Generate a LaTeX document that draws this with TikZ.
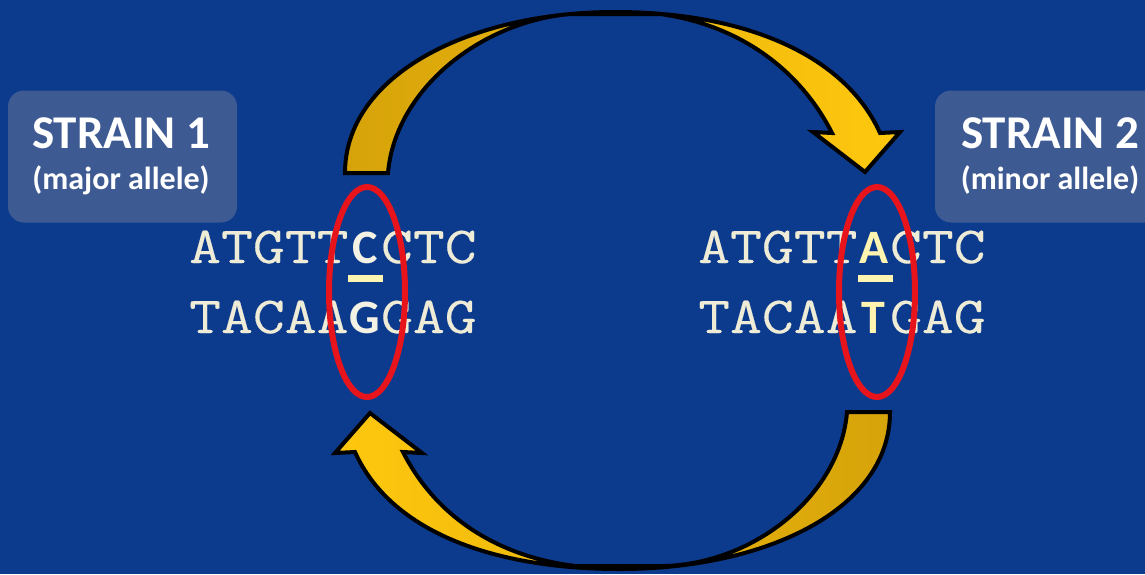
\documentclass[tikz,border=0pt]{standalone}
\usepackage{fontspec}
\setmainfont{Carlito}
\newfontfamily\seqfont{Latin Modern Mono}[FakeStretch=1.19,FakeBold=0.3]
\usetikzlibrary{shapes.geometric}

\definecolor{bgblue}{HTML}{0C3B8E}
\definecolor{boxblue}{HTML}{3E5A93}
\definecolor{seqcream}{HTML}{EEEBD6}
\definecolor{snpwhite}{HTML}{F4F2E4}
\definecolor{snpyellow}{HTML}{FFF4B0}
\definecolor{ringred}{HTML}{E8141C}
\definecolor{golddark}{HTML}{D6A30A}
\definecolor{goldlight}{HTML}{FFC80E}

% bold sans letter in a slot of the mono font
\newcommand{\snp}[2]{\makebox[32.5pt]{\color{#1}\normalfont\bfseries\fontsize{48}{48}\selectfont #2}}

\begin{document}
\begin{tikzpicture}[x=1pt,y=-1pt,
  strainbox/.style={fill=boxblue,rounded corners=16pt,minimum width=229pt,minimum height=132pt},
  strainlabel/.style={anchor=base,text=white,font=\bfseries\fontsize{47}{47}\selectfont},
  allelelabel/.style={anchor=base,text=white,font=\bfseries\fontsize{32}{32}\selectfont},
  seqline/.style={anchor=base west,inner sep=0pt,text=seqcream,font=\seqfont\fontsize{52}{52}\selectfont},
  snpring/.style={draw=ringred,line width=6pt,ellipse,minimum width=76pt,minimum height=210pt},
  swaparrow/.style={draw=black,line width=4pt}]
  \useasboundingbox (0,0) rectangle (1145,574);
  \clip (0,0) rectangle (1145,574);
  \fill[bgblue] (0,0) rectangle (1145,574);

  % strain boxes
  \node[strainbox] (strain1) at (122.5,156.5) {};
  \node[strainbox] (strain2) at (1049.5,156.5) {};
  \node[strainlabel] (name1) at (121,148) {STRAIN 1};
  \node[allelelabel] (allele1) at (121,189) {(major allele)};
  \node[strainlabel] (name2) at (1050,148) {STRAIN 2};
  \node[allelelabel] (allele2) at (1050,189) {(minor allele)};

  % sequences
  \node[seqline] (top1) at (189,263) {ATGTT\snp{snpwhite}{C}CTC};
  \node[seqline] (bot1) at (189,333) {TACAA\snp{snpwhite}{G}GAG};
  \node[seqline] (top2) at (698,263) {ATGTT\snp{snpyellow}{A}CTC};
  \node[seqline] (bot2) at (698,333) {TACAA\snp{snpyellow}{T}GAG};
  \fill[snpyellow] (348,275) rectangle (383,282);
  \fill[snpyellow] (858,275) rectangle (893,282);

  % snp rings
  \node[snpring] (ring1) at (367,292) {};
  \node[snpring] (ring2) at (877,292) {};

  % curved arrows
  \path[swaparrow,left color=golddark,right color=goldlight]
    (345,173) .. controls (345,75) and (470,12) .. (615,12)
    .. controls (745,12) and (845,55) .. (880,133)
    -- (900,132) -- (865,172) -- (813,132) -- (832,133)
    .. controls (800,70) and (740,25) .. (660,14)
    -- (570,14)
    .. controls (480,22) and (395,90) .. (388,173) -- cycle;
  \path[swaparrow,left color=goldlight,right color=golddark]
    (890,412) .. controls (890,510) and (765,569) .. (620,569)
    .. controls (490,569) and (390,530) .. (355,452)
    -- (335,453) -- (370,413) -- (422,453) -- (403,452)
    .. controls (435,515) and (495,556) .. (575,566)
    -- (665,566)
    .. controls (755,563) and (840,495) .. (847,412) -- cycle;
\end{tikzpicture}
\end{document}
